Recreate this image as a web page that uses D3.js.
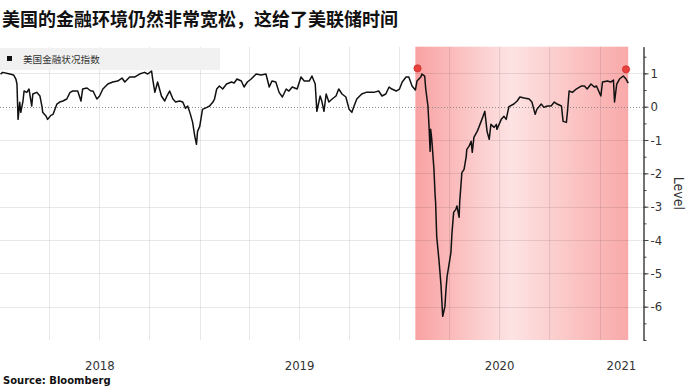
<!DOCTYPE html>
<html>
<head>
<meta charset="utf-8">
<script src="https://cdn.jsdelivr.net/npm/d3@7"></script>
<style>
  body { margin: 0; background: #fff; }
  svg { display: block; }
</style>
</head>
<body>
<div id="chart"></div>
<script>
// chart data
var title = "美国的金融环境仍然非常宽松，这给了美联储时间";
var seriesName = "美国金融状况指数";
var source = "Source: Bloomberg";

var dates = [
  "2018-01-02","2018-01-06","2018-01-19","2018-01-26","2018-01-30","2018-02-01","2018-02-03","2018-02-06","2018-02-08","2018-02-12",
  "2018-02-14","2018-02-19","2018-02-23","2018-02-28","2018-03-02","2018-03-09","2018-03-15","2018-03-19","2018-03-20","2018-03-26",
  "2018-03-29","2018-04-04","2018-04-08","2018-04-15","2018-04-20","2018-04-26","2018-05-03","2018-05-09","2018-05-14","2018-05-23",
  "2018-05-29","2018-06-01","2018-06-09","2018-06-16","2018-06-20","2018-06-27","2018-07-02","2018-07-08","2018-07-17","2018-07-26",
  "2018-08-04","2018-08-12","2018-08-17","2018-08-26","2018-09-04","2018-09-13","2018-09-22","2018-09-28","2018-10-05","2018-10-07",
  "2018-10-11","2018-10-16","2018-10-23","2018-10-29","2018-11-02","2018-11-07","2018-11-13","2018-11-18","2018-11-25","2018-12-01",
  "2018-12-06","2018-12-10","2018-12-15","2018-12-19","2018-12-23","2018-12-26","2018-12-28",
  "2019-01-01","2019-01-04","2019-01-06","2019-01-14","2019-01-19","2019-01-25","2019-01-28","2019-02-01","2019-02-06","2019-02-12",
  "2019-02-19","2019-02-28","2019-03-05","2019-03-10","2019-03-18","2019-03-23","2019-03-29","2019-04-05","2019-04-14","2019-04-23",
  "2019-05-02","2019-05-08","2019-05-13","2019-05-20","2019-05-26","2019-06-01","2019-06-08","2019-06-13","2019-06-19","2019-06-28",
  "2019-07-05","2019-07-11","2019-07-20","2019-07-25","2019-07-31","2019-08-03","2019-08-09","2019-08-12","2019-08-16","2019-08-20",
  "2019-08-25","2019-08-31","2019-09-07","2019-09-12","2019-09-18","2019-09-25","2019-10-01","2019-10-06","2019-10-10","2019-10-15",
  "2019-10-24","2019-11-01","2019-11-06","2019-11-15","2019-11-24","2019-11-30","2019-12-07","2019-12-13","2019-12-18","2019-12-26",
  "2020-01-01","2020-01-06","2020-01-13","2020-01-18","2020-01-24","2020-01-30","2020-02-02","2020-02-09","2020-02-11","2020-02-16",
  "2020-02-18","2020-02-22","2020-02-24","2020-02-26","2020-02-27","2020-02-29","2020-03-04","2020-03-06","2020-03-07","2020-03-09",
  "2020-03-13","2020-03-15","2020-03-17","2020-03-19","2020-03-20","2020-03-24","2020-03-26","2020-03-28","2020-03-31","2020-04-04",
  "2020-04-06","2020-04-09","2020-04-13","2020-04-15","2020-04-19","2020-04-20","2020-04-24","2020-04-28","2020-05-02","2020-05-03",
  "2020-05-07","2020-05-11","2020-05-13","2020-05-16","2020-05-22","2020-05-25","2020-06-01","2020-06-05","2020-06-09","2020-06-13",
  "2020-06-16","2020-06-22","2020-06-26","2020-06-27","2020-07-05","2020-07-10","2020-07-14","2020-07-19","2020-07-28","2020-08-03",
  "2020-08-08","2020-08-16","2020-08-25","2020-08-30","2020-09-05","2020-09-08","2020-09-16","2020-09-21","2020-09-27","2020-10-04",
  "2020-10-10","2020-10-15","2020-10-23","2020-10-26","2020-11-01","2020-11-03","2020-11-06","2020-11-12","2020-11-19","2020-11-28",
  "2020-12-04","2020-12-09","2020-12-16","2020-12-22","2020-12-26",
  "2021-01-03","2021-01-06","2021-01-15","2021-01-21","2021-01-26","2021-01-28","2021-02-01","2021-02-06","2021-02-13","2021-02-18",
  "2021-02-22"
];
var levels = [
  0.98,1.03,0.98,0.95,0.83,0.68,-0.38,0.13,-0.17,0.17,
  0.47,0.43,0.53,0.02,0.38,0.43,0.32,-0.02,-0.17,-0.28,
  -0.38,-0.26,-0.23,0.08,0.14,0.17,0.23,0.43,0.47,0.47,
  0.17,0.53,0.56,0.47,0.47,0.23,0.32,0.53,0.68,0.74,
  0.77,0.86,0.74,0.89,0.89,0.98,1.03,0.98,1.07,0.83,
  0.43,0.74,0.32,0.17,0.32,0.47,0.23,0.14,0.17,0.14,
  -0.05,0.02,-0.23,-0.47,-0.89,-1.13,-0.74,
  -0.59,-0.28,-0.08,-0.02,0.02,0.14,0.23,0.53,0.62,0.53,
  0.68,0.74,0.71,0.83,0.77,0.59,0.74,0.83,0.98,0.95,
  0.98,0.59,0.77,0.74,0.43,0.29,0.53,0.47,0.59,0.53,
  0.89,0.77,0.77,0.92,0.68,-0.14,0.32,0.17,-0.14,0.38,
  0.14,0.23,0.32,0.53,0.38,0.29,-0.08,-0.17,0.02,0.23,
  0.38,0.43,0.43,0.43,0.47,0.32,0.38,0.59,0.53,0.47,
  0.53,0.74,0.89,0.89,0.62,0.50,0.77,0.89,0.98,0.92,
  0.53,0.02,-0.59,-1.34,-0.68,-0.98,-1.88,-2.63,-2.87,-3.89,
  -4.58,-4.97,-5.39,-6.0,-6.29,-6.0,-5.48,-5.09,-4.79,-4.37,
  -3.77,-3.17,-3.08,-2.98,-3.32,-2.87,-1.98,-1.88,-1.49,-1.28,
  -1.19,-1.04,-1.37,-0.92,-0.74,-0.62,-0.32,-0.14,-0.74,-0.98,
  -0.53,-0.62,-0.53,-0.68,-0.38,-0.29,-0.38,0.0,0.08,0.17,
  0.29,0.26,0.23,0.14,-0.23,-0.08,0.08,-0.02,0.02,0.02,
  0.14,0.08,0.02,-0.44,-0.47,-0.14,0.47,0.43,0.53,0.62,
  0.62,0.53,0.68,0.59,0.62,
  0.32,0.74,0.77,0.74,0.80,0.14,0.68,0.83,0.92,0.83,
  0.71
];

var yearLabels = [2018, 2019, 2020, 2021];
var yTicks = [1, 0, -1, -2, -3, -4, -5, -6];
var shadeStart = "2020-01-30";
var markerDates = ["2020-02-03", "2021-02-18"];
var markerLevels = [1.15, 1.12];

var parseDate = d3.utcParse("%Y-%m-%d");
var data = dates.map(function(d, i) { return {date: parseDate(d), level: levels[i]}; });

//////////////////////////////////////////////
// Chart config
//////////////////////////////////////////////
var width = 688, height = 387;
var plot = {left: 0, right: 643, top: 46.7, bottom: 340};

var svg = d3.select("#chart").append("svg")
    .attr("width", width)
    .attr("height", height);

var xScale = d3.scaleUtc()
    .domain([parseDate("2018-01-01"), parseDate("2021-03-21")])
    .range([plot.left, plot.right]);
var yScale = d3.scaleLinear()
    .domain([-7, 1.8])
    .range([plot.bottom, plot.top]);

var lastDate = data[data.length - 1].date;

// highlight band gradient
var grad = svg.append("defs").append("linearGradient")
    .attr("id", "shade")
    .attr("x1", "0%").attr("x2", "100%").attr("y1", "0%").attr("y2", "0%");
grad.append("stop").attr("offset", "0%").attr("stop-color", "#f9a2a2");
grad.append("stop").attr("offset", "45%").attr("stop-color", "#fde3e3");
grad.append("stop").attr("offset", "100%").attr("stop-color", "#f9a9a9");

svg.append("rect")
    .attr("x", xScale(parseDate(shadeStart)))
    .attr("y", plot.top)
    .attr("width", xScale(lastDate) - xScale(parseDate(shadeStart)))
    .attr("height", plot.bottom - plot.top)
    .style("fill", "url(#shade)");

// quarterly vertical gridlines
var quarters = d3.utcMonth.every(3).range(parseDate("2018-04-01"), xScale.domain()[1]);
svg.append("g").selectAll("line").data(quarters).enter().append("line")
    .attr("x1", function(d) { return Math.round(xScale(d)) + 0.5; })
    .attr("x2", function(d) { return Math.round(xScale(d)) + 0.5; })
    .attr("y1", plot.top).attr("y2", plot.bottom)
    .style("stroke", "rgba(0,0,0,0.09)")
    .style("stroke-width", 1);

// horizontal gridlines
svg.append("g").selectAll("line").data(yTicks.filter(function(d) { return d !== 0; })).enter().append("line")
    .attr("x1", plot.left).attr("x2", plot.right)
    .attr("y1", function(d) { return Math.round(yScale(d)) + 0.5; })
    .attr("y2", function(d) { return Math.round(yScale(d)) + 0.5; })
    .style("stroke", "rgba(0,0,0,0.09)")
    .style("stroke-width", 1);

// zero line, dotted
svg.append("line")
    .attr("x1", plot.left).attr("x2", plot.right)
    .attr("y1", Math.round(yScale(0)) + 0.5).attr("y2", Math.round(yScale(0)) + 0.5)
    .style("stroke", "#8c8c8c")
    .style("stroke-dasharray", "1,2")
    .style("stroke-width", 1);

// legend box
var legend = svg.append("g");
legend.append("rect")
    .attr("x", 0).attr("y", 48).attr("width", 220).attr("height", 22)
    .style("fill", "#f1f1f1");
legend.append("rect")
    .attr("x", 7).attr("y", 56).attr("width", 5).attr("height", 5)
    .style("fill", "#111");
legend.append("text")
    .attr("x", 23).attr("y", 62.5)
    .style("font-family", "'Noto Sans CJK SC', sans-serif")
    .style("font-size", "9.6px")
    .style("fill", "#333")
    .text(seriesName);

// the line
var line = d3.line()
    .x(function(d) { return xScale(d.date); })
    .y(function(d) { return yScale(d.level); });

svg.append("path").datum(data)
    .attr("class", "trace")
    .attr("d", line)
    .style("fill", "none")
    .style("stroke", "#111")
    .style("stroke-width", "1.5px")
    .style("stroke-linejoin", "round");

// red markers
svg.append("g").selectAll("circle").data(markerDates).enter().append("circle")
    .attr("cx", function(d) { return xScale(parseDate(d)); })
    .attr("cy", function(d, i) { return yScale(markerLevels[i]); })
    .attr("r", 3.6)
    .style("fill", "#e8423f")
    .style("stroke", "#d12c2c")
    .style("stroke-width", 0.8);

// right axis
var axisFont = "'Liberation Sans Narrow', 'DejaVu Sans Condensed', 'Roboto', sans-serif";
var minorAxis = d3.axisRight(yScale)
    .tickValues(d3.range(-7, 1.8, 0.5))
    .tickSize(3).tickSizeOuter(0)
    .tickFormat("");
var majorAxis = d3.axisRight(yScale)
    .tickValues(yTicks)
    .tickSize(5).tickSizeOuter(0).tickPadding(2)
    .tickFormat(function(d) { return String(d); });

svg.append("g")
    .attr("transform", "translate(" + (plot.right + 0.5) + ",0)")
    .call(minorAxis);
svg.append("g")
    .attr("transform", "translate(" + (plot.right + 0.5) + ",0)")
    .call(majorAxis);
svg.selectAll(".domain").style("stroke", "#444");
svg.selectAll(".tick line").style("stroke", "#444");
svg.selectAll(".tick text")
    .style("font-family", axisFont)
    .style("font-size", "13px")
    .style("fill", "#333");

// axis title
svg.append("text")
    .attr("transform", "translate(674," + yScale(-2.6) + ") rotate(90)")
    .attr("text-anchor", "middle")
    .style("font-family", axisFont)
    .style("font-size", "14px")
    .style("fill", "#333")
    .text("Level");

// year labels, centred in the visible part of each year
svg.append("g").selectAll("text").data(yearLabels).enter().append("text")
    .attr("x", function(d) {
      var a = Math.max(xScale(new Date(Date.UTC(d, 0, 1))), plot.left);
      var b = Math.min(xScale(new Date(Date.UTC(d + 1, 0, 1))), plot.right);
      return (a + b) / 2;
    })
    .attr("y", 370)
    .attr("text-anchor", "middle")
    .style("font-family", axisFont)
    .style("font-size", "13px")
    .style("fill", "#333")
    .text(function(d) { return d; });

// title and source
svg.append("text")
    .attr("x", 2).attr("y", 26)
    .style("font-family", "'Noto Sans CJK SC', sans-serif")
    .style("font-weight", "bold")
    .style("font-size", "18px")
    .style("fill", "#111")
    .text(title);

svg.append("text")
    .attr("x", 3).attr("y", 384)
    .style("font-family", "'DejaVu Sans', sans-serif")
    .style("font-weight", "bold")
    .style("font-size", "10px")
    .style("fill", "#111")
    .text(source);
</script>
</body>
</html>
